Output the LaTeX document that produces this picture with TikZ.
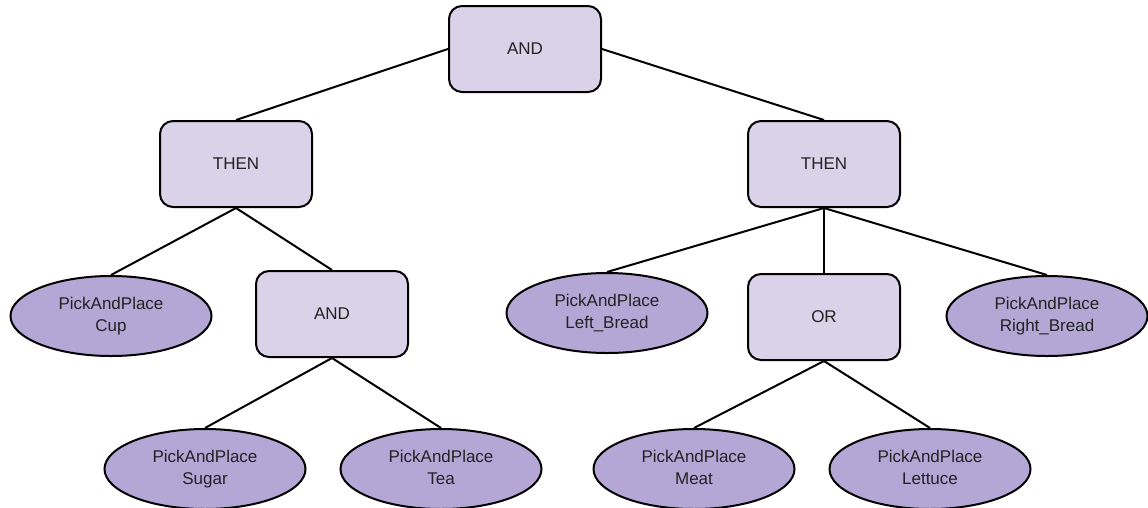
\documentclass[tikz,border=0pt]{standalone}
\usepackage{fontspec}
\setmainfont{Liberation Sans}
\usetikzlibrary{shapes.geometric}
\definecolor{boxfill}{HTML}{D9D2E9}
\definecolor{ellfill}{HTML}{B4A7D6}
\definecolor{txt}{HTML}{222222}
\tikzset{
  opbox/.style={draw=black, line width=2pt, fill=boxfill, rounded corners=13pt,
    minimum width=152pt, minimum height=86pt, inner sep=0pt, text=txt,
    font=\fontsize{17}{22}\selectfont},
  leaf/.style={draw=black, line width=2pt, fill=ellfill, ellipse,
    minimum width=201pt, minimum height=80pt, inner sep=0pt, align=center, text=txt,
    font=\fontsize{17}{22}\selectfont},
  edge/.style={line width=2pt, black}
}
\newcommand{\pp}[1]{PickAndPlace\strut\\#1\strut}
\begin{document}
\begin{tikzpicture}[x=1pt,y=-1pt]
\useasboundingbox (0,0) rectangle (1148,507);
\node[opbox] (root) at (525,49) {AND};
\node[opbox] (thenL) at (236,164) {THEN};
\node[opbox] (thenR) at (824,164) {THEN};
\node[leaf] (cup) at (111,316) {\pp{Cup}};
\node[opbox] (andM) at (332,314) {AND};
\node[leaf] (lb) at (607,313) {\pp{Left\_Bread}};
\node[opbox] (or) at (824,317) {OR};
\node[leaf] (rb) at (1047,316) {\pp{Right\_Bread}};
\node[leaf] (sugar) at (205,469) {\pp{Sugar}};
\node[leaf] (tea) at (441,469) {\pp{Tea}};
\node[leaf] (meat) at (694,469) {\pp{Meat}};
\node[leaf] (lettuce) at (930,469) {\pp{Lettuce}};
\draw[edge] (root.west) -- (thenL.north);
\draw[edge] (root.east) -- (thenR.north);
\draw[edge] (thenL.south) -- (cup.north);
\draw[edge] (thenL.south) -- (andM.north);
\draw[edge] (andM.south) -- (sugar.north);
\draw[edge] (andM.south) -- (tea.north);
\draw[edge] (thenR.south) -- (lb.north);
\draw[edge] (thenR.south) -- (or.north);
\draw[edge] (thenR.south) -- (rb.north);
\draw[edge] (or.south) -- (meat.north);
\draw[edge] (or.south) -- (lettuce.north);
\end{tikzpicture}
\end{document}
